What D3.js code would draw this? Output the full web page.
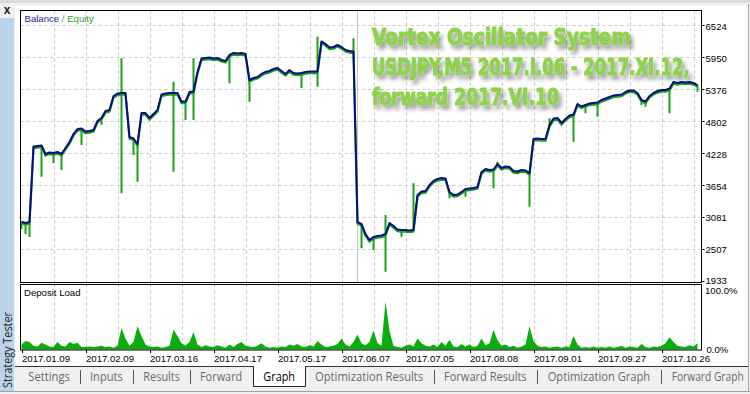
<!DOCTYPE html>
<html><head><meta charset="utf-8">
<script src="https://cdn.jsdelivr.net/npm/d3@7"></script>
<style>html,body{margin:0;padding:0;background:#f0f0f0;overflow:hidden}</style>
</head><body><svg id="c" width="750" height="394"></svg>
<script>
// ---------------- DATA ----------------
const balance = [
 3002,2979,2996,4350,4359,4368,4216,4243,4234,4252,
 4216,4324,4431,4575,4664,4673,4620,4628,4646,4808,
 4862,4987,5005,5256,5301,5310,5310,4521,4494,4395,
 4951,4951,4862,4933,5005,5283,5301,5310,5310,5310,
 5157,5157,5328,5337,5687,5929,5938,5947,5929,5938,
 5902,5884,5992,6027,6018,6027,6009,5543,5579,5597,
 5651,5687,5705,5740,5758,5705,5651,5722,5669,5660,
 5669,5687,5696,5696,5696,6234,6189,6126,6135,6171,
 6135,6081,6063,6054,2996,2961,2781,2674,2727,2745,
 2754,2781,2979,2925,2862,2853,2853,2844,2853,3481,
 3543,3552,3660,3732,3768,3786,3777,3535,3481,3490,
 3535,3588,3597,3606,3624,3893,3947,3929,3938,4037,
 3965,3992,3983,3911,3902,3929,3920,3875,4485,4494,
 4485,4485,4736,4853,4862,4772,4844,4906,4924,5113,
 5068,5095,5122,5131,5140,5184,5211,5238,5265,5274,
 5283,5328,5355,5355,5310,5184,5157,5256,5310,5346,
 5364,5364,5391,5507,5489,5507,5498,5507,5489,5453
];
const equitySpikeIdx = [0,1,2,5,8,10,15,20,25,25,28,29,38,38,41,43,43,52,57,70,74,74,83,85,88,91,91,95,98,107,111,118,119,127,132,138,141,144,155,156,162,169];
const equitySpikeVal = [2871,2781,2727,3809,4055,3929,4377,4736,3511,5932,4198,3719,3899,5513,4826,4826,5932,5484,5154,5394,5423,6320,6291,2525,2494,2105,3122,2733,3690,3421,3450,3601,4078,3271,4856,4437,4946,4885,5095,5064,4946,5333];
const depositLoad = [
 8,14,12,6,5,11,8,5,4,12,
 6,5,12,9,11,4,4,5,4,5,
 6,4,5,3,6,35,18,6,12,38,
 22,8,5,4,5,3,4,6,32,22,
 10,6,12,28,8,4,7,5,4,7,
 5,3,8,4,9,12,6,5,4,6,
 10,5,3,4,3,5,4,8,6,9,
 5,4,7,5,14,8,4,5,6,9,
 18,8,5,12,24,10,7,12,31,10,
 6,78,30,6,4,3,6,8,5,18,
 10,6,5,8,4,12,6,16,5,4,
 9,5,8,4,6,18,7,10,32,15,
 6,8,4,6,3,5,8,38,14,6,
 4,5,3,4,5,3,5,4,22,8,
 3,4,3,5,3,4,3,5,3,4,
 6,3,5,4,3,9,4,3,5,4,
 6,10,20,12,6,5,4,7,5,10
];
const xTickIdx = [0,16,32,48,64,80,96,112,128,144,160];
const xTickLabels = ["2017.01.09","2017.02.09","2017.03.16","2017.04.17","2017.05.17","2017.06.07","2017.07.05","2017.08.08","2017.09.01","2017.09.27","2017.10.26"];
const yTicks = [1933,2507,3081,3654,4228,4802,5376,5950,6524];
const forwardIdx = 83.9;
const titleLines = ["Vortex Oscillator System","USDJPY,M5 2017.I.06 - 2017.XI.12,","forward 2017.VI.10"];
const tabLabels = ["Settings","Inputs","Results","Forward","Graph","Optimization Results","Forward Results","Optimization Graph","Forward Graph"];
const selectedTab = "Graph";

// ---------------- LAYOUT ----------------
const L = {left:20.5, right:701.5, mainTop:10.5, mainBot:282.5, depTop:284.5, depBot:350};
const tabX = [28.3,90,143.3,200,263.3,315,444,547.7,671.7];
const tabW = [41.7,32.7,36.7,42.3,31.7,108.3,82.7,102.6,72];
const titleW = [259,318,187];

const svg = d3.select("#c");
const FONT = "'Liberation Sans', Arial, sans-serif";

// fit a text element horizontally to a target width via a scale transform
function fitText(sel, x0, y0, target){
  sel.each(function(){
    const w = this.getComputedTextLength();
    d3.select(this).attr("x",0).attr("y",0)
      .attr("transform",`translate(${x0},${y0}) scale(${target/w},1)`);
  });
}

// window background pieces
svg.append("rect").attr("x",0).attr("y",0).attr("width",750).attr("height",394).attr("fill","#f0f0f0");
svg.append("rect").attr("x",0).attr("y",0).attr("width",750).attr("height",3).attr("fill","#dcdcdc");
svg.append("rect").attr("x",15).attr("y",6).attr("width",733).attr("height",361).attr("fill","#ffffff");
svg.append("line").attr("x1",748.5).attr("x2",748.5).attr("y1",4).attr("y2",392).attr("stroke","#a8a8a8");
// left strip
svg.append("rect").attr("x",0).attr("y",18).attr("width",14).attr("height",373).attr("fill","#bcd3ec");
svg.append("text").attr("x",7).attr("y",14).attr("text-anchor","middle").attr("font-family",FONT)
  .attr("font-size",12).attr("font-weight","bold").attr("fill","#222").text("x");
svg.append("text").attr("transform","translate(11.5,388) rotate(-90)").attr("font-family","'Open Sans', 'Liberation Sans', sans-serif")
  .attr("font-size",12).attr("fill","#2a2a2a").attr("textLength",76).attr("lengthAdjust","spacingAndGlyphs").text("Strategy Tester");

// scales
const x = d3.scaleLinear().domain([0,168]).range([21.5,693.5]);
const y = d3.scaleLinear().domain([1933,6524]).range([281.3,25.3]);
const yD = d3.scaleLinear().domain([0,100]).range([349.5,288]);

// gridlines
const gridIdx = d3.range(8,170,8);
const gstyle = s => s.attr("stroke","#c8c8c8").attr("stroke-width",1).attr("stroke-dasharray","3,3");
svg.append("g").selectAll("line").data(gridIdx).join("line")
  .attr("x1",d=>Math.round(x(d))+0.5).attr("x2",d=>Math.round(x(d))+0.5)
  .attr("y1",L.mainTop).attr("y2",L.mainBot).call(gstyle);
svg.append("g").selectAll("line").data(gridIdx).join("line")
  .attr("x1",d=>Math.round(x(d))+0.5).attr("x2",d=>Math.round(x(d))+0.5)
  .attr("y1",L.depTop).attr("y2",L.depBot).call(gstyle);
svg.append("g").selectAll("line").data(yTicks.slice(1)).join("line")
  .attr("x1",L.left).attr("x2",L.right).attr("y1",d=>Math.round(y(d))+0.5).attr("y2",d=>Math.round(y(d))+0.5).call(gstyle);

// forward divider
svg.append("line").attr("x1",Math.round(x(forwardIdx))+0.5).attr("x2",Math.round(x(forwardIdx))+0.5)
  .attr("y1",L.mainTop).attr("y2",L.mainBot).attr("stroke","#c4c4c4").attr("stroke-width",1);

// clip
svg.append("clipPath").attr("id","mc").append("rect").attr("x",L.left).attr("y",L.mainTop).attr("width",L.right-L.left).attr("height",L.mainBot-L.mainTop);
const g = svg.append("g").attr("clip-path","url(#mc)");

const line = d3.line().x((d,i)=>x(i)).y(d=>y(d));
// equity (green) spikes
g.append("g").selectAll("line").data(equitySpikeIdx).join("line")
  .attr("x1",d=>x(d)).attr("x2",d=>x(d))
  .attr("y1",d=>y(balance[d])).attr("y2",(d,k)=>y(equitySpikeVal[k]))
  .attr("stroke","#16a316").attr("stroke-width",2);
// equity trail (drawn slightly below the balance)
g.append("path").datum(balance).attr("d",line).attr("fill","none")
  .attr("stroke","#16a316").attr("stroke-width",2.2).attr("transform","translate(0,1.6)");
// balance
g.append("path").datum(balance).attr("d",line).attr("fill","none")
  .attr("stroke","#0a0a8c").attr("stroke-width",2).attr("stroke-linejoin","round");

// deposit load
svg.append("path").datum(depositLoad).attr("fill","#0aae0a")
  .attr("d",d3.area().x((d,i)=>x(i)).y0(yD(0)).y1(d=>yD(d)));

// panel borders
svg.append("rect").attr("x",L.left).attr("y",L.mainTop).attr("width",L.right-L.left).attr("height",L.mainBot-L.mainTop)
  .attr("fill","none").attr("stroke","#000").attr("stroke-width",1);
svg.append("rect").attr("x",L.left).attr("y",L.depTop).attr("width",L.right-L.left).attr("height",L.depBot-L.depTop)
  .attr("fill","none").attr("stroke","#000").attr("stroke-width",1);

// y axis (right)
const ya = svg.append("g");
ya.selectAll("line").data(yTicks).join("line")
  .attr("x1",L.right).attr("x2",L.right+3).attr("y1",d=>Math.round(y(d))+0.5).attr("y2",d=>Math.round(y(d))+0.5).attr("stroke","#000");
ya.selectAll("text").data(yTicks).join("text")
  .attr("x",705.5).attr("y",d=>y(d)+(d===1933?2.6:4.2)).attr("font-family",FONT).attr("font-size",9.6).attr("fill","#000").text(d=>d);
// deposit axis labels
svg.append("text").attr("x",705).attr("y",294).attr("font-family",FONT).attr("font-size",9.6).text("100.0%");
svg.append("text").attr("x",706.5).attr("y",352.7).attr("font-family",FONT).attr("font-size",9.6).text("0.0%");

// x axis
const xa = svg.append("g");
xa.selectAll("line").data(xTickIdx).join("line")
  .attr("x1",d=>Math.round(x(d))+0.5).attr("x2",d=>Math.round(x(d))+0.5).attr("y1",L.depBot).attr("y2",L.depBot+3).attr("stroke","#000");
xa.selectAll("text").data(xTickIdx).join("text")
  .attr("x",d=>x(d)+0.5).attr("y",361.7).attr("font-family",FONT).attr("font-size",9.6).attr("fill","#000")
  .text((d,i)=>xTickLabels[i]);

// legend texts
const lg = svg.append("text").attr("x",24.5).attr("y",21.8).attr("font-family",FONT).attr("font-size",9.6);
lg.append("tspan").attr("fill","#1a1aa0").text("Balance");
lg.append("tspan").attr("fill","#808080").text(" / ");
lg.append("tspan").attr("fill","#2aa52a").text("Equity");
svg.append("text").attr("x",24).attr("y",296).attr("font-family",FONT).attr("font-size",9.6).attr("fill","#000").text("Deposit Load");

// tab bar
svg.append("rect").attr("x",15).attr("y",367).attr("width",733).attr("height",24).attr("fill","#f0f0f0");
svg.append("line").attr("x1",15).attr("x2",748).attr("y1",366.5).attr("y2",366.5).attr("stroke","#333");
svg.append("line").attr("x1",0).attr("x2",750).attr("y1",391.5).attr("y2",391.5).attr("stroke","#a0a0a0");
const selI = tabLabels.indexOf(selectedTab);
svg.append("path").attr("d",`M253.5,366.5 V386.5 H305.5 V366.5`).attr("fill","#fff").attr("stroke","#222");
svg.append("rect").attr("x",254).attr("y",366).attr("width",51).attr("height",20).attr("fill","#fff");
tabLabels.forEach((d,i)=>{
  svg.append("text").attr("font-family","'Open Sans','Liberation Sans',sans-serif")
    .attr("font-size",12.5).attr("fill",d===selectedTab?"#000":"#6a6a6a").text(d)
    .call(fitText, tabX[i], 381.3, tabW[i]);
});
// separators between unselected neighbours
const seps = [];
for (let i=0;i<tabLabels.length-1;i++) if (i!==selI && i+1!==selI) seps.push((tabX[i]+tabW[i]+tabX[i+1])/2);
svg.append("g").selectAll("line").data(seps).join("line")
  .attr("x1",d=>Math.round(d)+0.5).attr("x2",d=>Math.round(d)+0.5).attr("y1",370).attr("y2",384).attr("stroke","#555");

// title with shadow
const defs = svg.append("defs");
const f = defs.append("filter").attr("id","sh").attr("filterUnits","userSpaceOnUse")
  .attr("x",360).attr("y",15).attr("width",350).attr("height",110);
f.append("feGaussianBlur").attr("in","SourceAlpha").attr("stdDeviation",2.2).attr("result","b");
f.append("feOffset").attr("in","b").attr("dx",3).attr("dy",4).attr("result","o");
f.append("feComponentTransfer").attr("in","o").attr("result","s").append("feFuncA").attr("type","linear").attr("slope",0.4);
const fm = f.append("feMerge"); fm.append("feMergeNode").attr("in","s"); fm.append("feMergeNode").attr("in","SourceGraphic");
const tg = svg.append("g").attr("filter","url(#sh)");
titleLines.forEach((d,i)=>{
  tg.append("text").attr("font-family","'Liberation Sans Narrow','DejaVu Sans Condensed',sans-serif")
    .attr("font-weight","bold").attr("font-size",23).attr("fill","#8fd24d")
    .attr("stroke","#8fd24d").attr("stroke-width",1.1).attr("stroke-linejoin","round")
    .text(d).call(fitText, 372, 45+i*30, titleW[i]);
});
</script></body></html>
